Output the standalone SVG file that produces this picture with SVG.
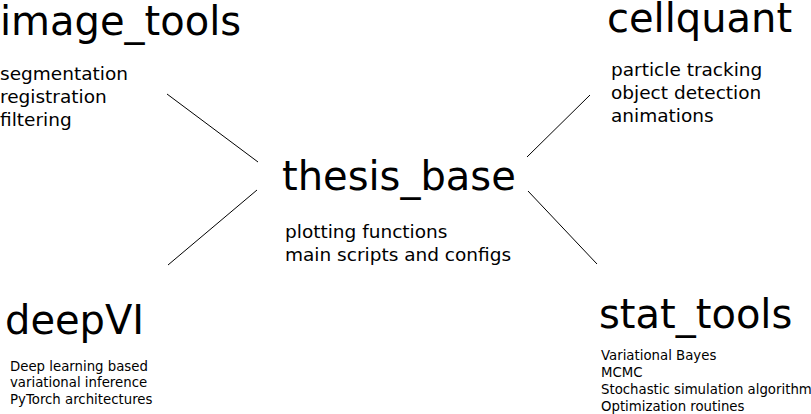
<svg xmlns="http://www.w3.org/2000/svg" width="811" height="414" viewBox="0 0 811 414">
<style>
text{font-family:"DejaVu Sans",sans-serif;fill:#000}
.t{font-size:40px}
.m{font-size:18.5px}
.s{font-size:13.3px}
.c line{stroke:#000;stroke-width:1}
</style>
<rect width="811" height="414" fill="#fff"/>
<g class="c" id="connectors">
<line x1="167" y1="94" x2="258" y2="162"/>
<line x1="527" y1="157" x2="590" y2="95"/>
<line x1="168" y1="265" x2="257" y2="190"/>
<line x1="528" y1="191" x2="597" y2="264"/>
</g>
<g id="thesis_base">
<text class="t" x="282" y="190">thesis_base</text>
<text class="m" x="285" y="238">plotting functions</text>
<text class="m" x="285" y="261">main scripts and configs</text>
</g>
<g id="image_tools">
<text class="t" x="0" y="35">image_tools</text>
<text class="m" x="0" y="80">segmentation</text>
<text class="m" x="0" y="103">registration</text>
<text class="m" x="0" y="126">filtering</text>
</g>
<g id="cellquant">
<text class="t" x="607" y="32">cellquant</text>
<text class="m" x="611" y="76">particle tracking</text>
<text class="m" x="611" y="99">object detection</text>
<text class="m" x="611" y="122">animations</text>
</g>
<g id="deepVI">
<text class="t" x="5" y="334">deepVI</text>
<text class="s" x="10" y="371">Deep learning based</text>
<text class="s" x="10" y="387">variational inference</text>
<text class="s" x="10" y="404">PyTorch architectures</text>
</g>
<g id="stat_tools">
<text class="t" x="599" y="328">stat_tools</text>
<text class="s" x="601" y="360">Variational Bayes</text>
<text class="s" x="601" y="377">MCMC</text>
<text class="s" x="601" y="394">Stochastic simulation algorithm</text>
<text class="s" x="601" y="411">Optimization routines</text>
</g>
</svg>
